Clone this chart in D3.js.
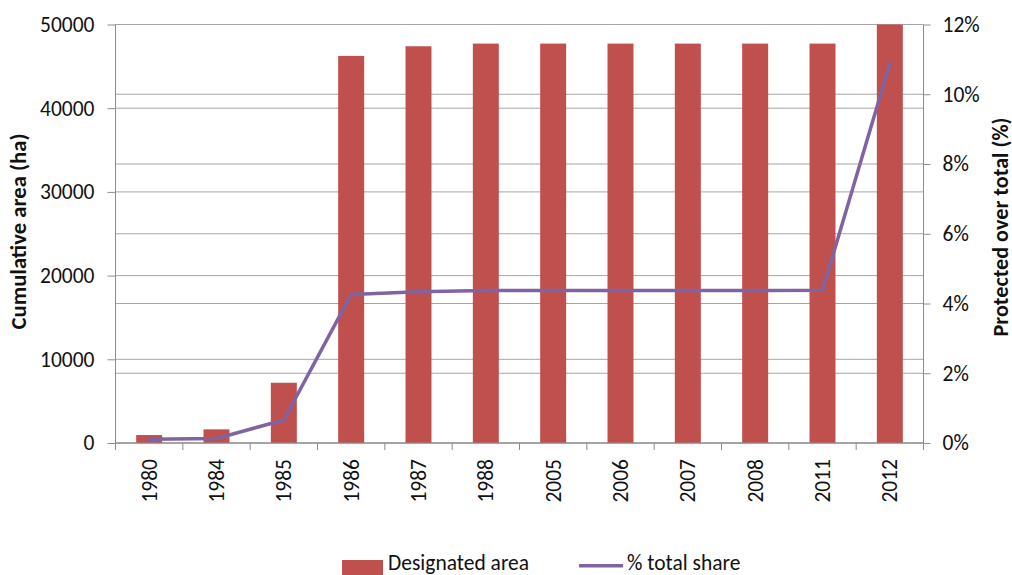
<!DOCTYPE html>
<html><head><meta charset="utf-8">
<script src="https://cdn.jsdelivr.net/npm/d3@7"></script>
<style>
body{margin:0;background:#fff;}
svg text{font-family:Carlito,Calibri,"Liberation Sans",sans-serif;fill:#111;}
</style></head>
<body>
<svg id="chart" width="1012" height="575"></svg>
<script>
const categories = ["1980","1984","1985","1986","1987","1988","2005","2006","2007","2008","2011","2012"];
const designatedArea = [950, 1630, 7200, 46250, 47400, 47720, 47720, 47720, 47720, 47720, 47720, 54000];
const totalShare = [0.0011, 0.0013, 0.0066, 0.0426, 0.0434, 0.0437, 0.0437, 0.0437, 0.0437, 0.0437, 0.0438, 0.1088];
const leftTicks = [0, 10000, 20000, 30000, 40000, 50000];
const rightTicks = [0, 0.02, 0.04, 0.06, 0.08, 0.10, 0.12];
const seriesNames = ["Designated area", "% total share"];

const svg = d3.select("#chart");
const L = 115.5, R = 923.5, T = 24.5, B = 443;
const barColor = "#C0504D", lineColor = "#8064A2", gridColor = "#A6A6A6", axisColor = "#8C8C8C";
const fs = "21.5px";

const x = d3.scaleBand().domain(categories).range([L, R]).paddingInner(0).paddingOuter(0);
const yL = d3.scaleLinear().domain([0, 50000]).range([B, T]);
const yR = d3.scaleLinear().domain([0, 0.12]).range([B, T]);

// gridlines (both axes)
svg.append("g").selectAll("line").data(leftTicks).join("line")
  .attr("x1", L).attr("x2", R).attr("y1", d => yL(d)).attr("y2", d => yL(d))
  .attr("stroke", gridColor).attr("stroke-width", 1);
svg.append("g").selectAll("line").data(rightTicks).join("line")
  .attr("x1", L).attr("x2", R).attr("y1", d => yR(d)).attr("y2", d => yR(d))
  .attr("stroke", gridColor).attr("stroke-width", 1);

// clip
svg.append("clipPath").attr("id", "plotclip").append("rect")
  .attr("x", L).attr("y", T).attr("width", R - L).attr("height", B - T);

// bars
const barW = x.bandwidth() * 0.386;
svg.append("g").attr("clip-path", "url(#plotclip)").selectAll("rect").data(categories).join("rect")
  .attr("x", (c) => x(c) + (x.bandwidth() - barW) / 2)
  .attr("width", barW)
  .attr("y", (c, i) => yL(designatedArea[i]))
  .attr("height", (c, i) => B - yL(designatedArea[i]))
  .attr("fill", barColor);

// axes
const leftAxis = d3.axisLeft(yL).tickValues(leftTicks).tickSize(8).tickPadding(13).tickFormat(d3.format("d"));
const gL = svg.append("g").attr("transform", `translate(${L},0)`).call(leftAxis);
const rightAxis = d3.axisRight(yR).tickValues(rightTicks).tickSize(7).tickPadding(12).tickFormat(d3.format(".0%"));
const gR = svg.append("g").attr("transform", `translate(${R},0)`).call(rightAxis);
const bottomAxis = d3.axisBottom(x).tickSize(0).tickPadding(0);
const gB = svg.append("g").attr("transform", `translate(0,${B})`).call(bottomAxis);

[gL, gR, gB].forEach(g => {
  g.select(".domain").attr("stroke", axisColor).attr("stroke-width", 1);
  g.selectAll(".tick line").attr("stroke", axisColor);
  g.selectAll(".tick text").style("font-size", fs).attr("fill", "#111");
});
gL.select(".domain").attr("d", `M0,${B}V${T}`);
gR.select(".domain").attr("d", `M0,${B}V${T}`);
gB.select(".domain").attr("d", `M${L},0H${R}`);

// category boundary ticks
const bounds = categories.map(c => x(c)).concat([R]);
gB.selectAll("line.bt").data(bounds).join("line").attr("class", "bt")
  .attr("x1", d => d).attr("x2", d => d).attr("y1", 0).attr("y2", 7)
  .attr("stroke", axisColor);

gB.selectAll(".tick text")
  .attr("transform", "rotate(-90)")
  .attr("text-anchor", "end")
  .attr("x", -16).attr("y", 0).attr("dy", "0.35em");

// line
const line = d3.line().x((d, i) => x(categories[i]) + x.bandwidth() / 2).y(d => yR(d));
svg.append("path").datum(totalShare).attr("d", line)
  .attr("fill", "none").attr("stroke", lineColor).attr("stroke-width", 3.5)
  .attr("stroke-linejoin", "round").attr("stroke-linecap", "round");

// axis titles, sized to match reference lengths
function title(txt, cx, cy, targetLen) {
  const t = svg.append("text").attr("transform", `translate(${cx},${cy}) rotate(-90)`)
    .attr("text-anchor", "middle").style("font-size", "18px").style("font-weight", "bold")
    .text(txt);
  const len = t.node().getComputedTextLength();
  if (len > 0) t.style("font-size", (18 * targetLen / len).toFixed(2) + "px");
  return t;
}
title("Cumulative area (ha)", 26, 231.5, 196);
title("Protected over total (%)", 1007.5, 227, 219);

// legend
const lg = svg.append("g");
lg.append("rect").attr("x", 342).attr("y", 560).attr("width", 41).attr("height", 15).attr("fill", barColor);
lg.append("text").attr("x", 388).attr("y", 570).style("font-size", fs).text(seriesNames[0]);
lg.append("line").attr("x1", 579).attr("x2", 623).attr("y1", 565.7).attr("y2", 565.7)
  .attr("stroke", lineColor).attr("stroke-width", 3.5);
lg.append("text").attr("x", 627).attr("y", 570).style("font-size", fs).text(seriesNames[1]);
</script>
</body></html>
